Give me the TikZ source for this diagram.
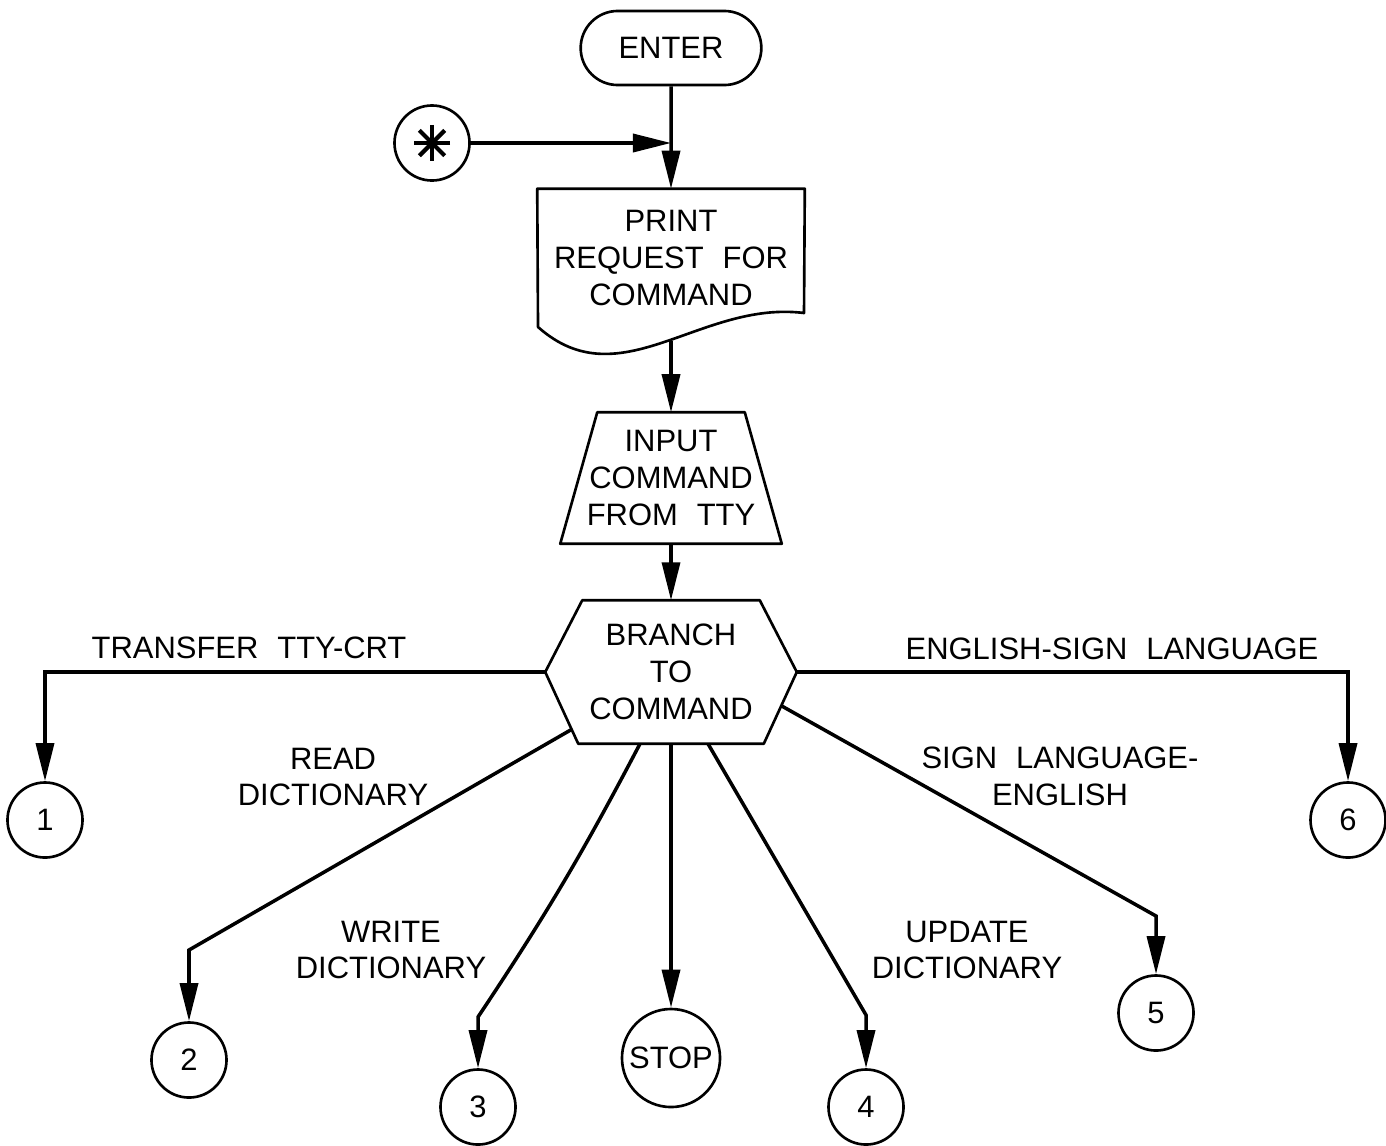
\documentclass[tikz,border=0pt]{standalone}
\usepackage{fontspec}
\usetikzlibrary{arrows.meta,shapes.misc,calc}
\newfontfamily\labfam[WordSpace=2.2]{Liberation Sans}
\newcommand\labfont{\labfam\fontsize{8.8pt}{10.5pt}\selectfont}
\tikzset{
  lbl/.style={font=\labfont, align=center, inner sep=0pt},
  outline/.style={line width=0.75pt, line join=round},
  conn/.style={line width=1pt, -{Triangle[length=3.8mm,width=1.8mm]}},
  term/.style={circle, draw, line width=0.75pt, minimum size=0.75cm, inner sep=0pt, font=\labfont},
  stadium/.style={rounded rectangle, draw, line width=0.75pt, minimum width=2.04cm, minimum height=0.74cm, font=\labfont},
}
\begin{document}
\begin{tikzpicture}[x=0.01cm,y=-0.01cm]
\useasboundingbox (0,0) rectangle (1386,1145);
\fill[white] (0,0) rectangle (1386,1145);

% entry terminal and re-entry connector
\node[stadium] (enter) at (671,48) {ENTER};
\node[term, path picture={
    \foreach \a in {0,45,90,135}{
      \draw[line width=1.2pt] ($(path picture bounding box.center)+(\a:0.18cm)$) --
                              ($(path picture bounding box.center)+(\a+180:0.18cm)$);}
  }] (star) at (432,143) {};
\coordinate (join) at (671,143);

% print request (document symbol)
\node[lbl, minimum width=2.66cm, minimum height=1.37cm] (print) at (671,258) {PRINT\\REQUEST FOR\\COMMAND};
\draw[outline] (print.north west) -- (print.north east) -- (804,313)
  .. controls (700,300) and (620,400) .. (538,327) -- cycle;
\coordinate (pbot) at (671,341);

% manual input (trapezoid)
\node[lbl, minimum width=2.2cm, minimum height=1.3cm] (input) at (671,478) {INPUT\\COMMAND\\FROM TTY};
\draw[outline] ($(input.north west)+(37,0)$) -- ($(input.north east)+(-37,0)$)
  -- (input.south east) -- (input.south west) -- cycle;

% branch (hexagon)
\node[lbl, minimum width=2.5cm, minimum height=1.42cm] (hex) at (671,672) {BRANCH\\TO\\COMMAND};
\coordinate (htl) at ($(hex.north west)+(37,0)$);
\coordinate (htr) at ($(hex.north east)+(-37,0)$);
\coordinate (hbl) at ($(hex.south west)+(33,0)$);
\coordinate (hbr) at ($(hex.south east)+(-33,0)$);
\draw[outline] (hex.west) -- (htl) -- (htr) -- (hex.east) -- (hbr) -- (hbl) -- cycle;

% off-page connectors
\node[term] (c1) at (45,820) {1};
\node[term] (c2) at (189,1060) {2};
\node[term] (c3) at (478,1107) {3};
\node[term, minimum size=0.98cm] (stop) at (671,1058) {STOP};
\node[term] (c4) at (866,1107) {4};
\node[term] (c5) at (1156,1013) {5};
\node[term] (c6) at (1348,820) {6};

% main flow
\draw[conn] (star) -- (join);
\draw[conn] (enter) -- (print);
\draw[conn] (pbot) -- (input);
\draw[conn] (input) -- (hex);

% branches
\draw[conn] (hex.west) -| (c1);
\draw[conn] (hex.east) -| (c6);
\coordinate (hr) at ($(hex.west)!0.8!(hbl)$);
\coordinate (b2) at (189,950);
\draw[conn] (hr) -- (b2) -- (c2);
\coordinate (hw) at ($(hex.south)+(-31,0)$);
\coordinate (b3) at (478,1017);
\draw[conn] (hw) to[bend left=3] (b3) -- (c3);
\draw[conn] (hex.south) -- (stop);
\coordinate (hu) at ($(hex.south)+(37,0)$);
\coordinate (b4) at (866,1015);
\draw[conn] (hu) -- (b4) -- (c4);
\coordinate (hs) at ($(hex.east)!0.47!(hbr)$);
\coordinate (b5) at (1156,916);
\draw[conn] (hs) -- (b5) -- (c5);

% branch labels
\node[lbl] (lt) at (249,648) {TRANSFER TTY-CRT};
\node[lbl] (le) at (1112,649) {ENGLISH-SIGN LANGUAGE};
\node[lbl] (lr) at (333,777) {READ\\DICTIONARY};
\node[lbl] (lw) at (391,950) {WRITE\\DICTIONARY};
\node[lbl] (lu) at (967,950) {UPDATE\\DICTIONARY};
\node[lbl] (ls) at (1060,776) {SIGN LANGUAGE-\\ENGLISH};
\end{tikzpicture}
\end{document}
